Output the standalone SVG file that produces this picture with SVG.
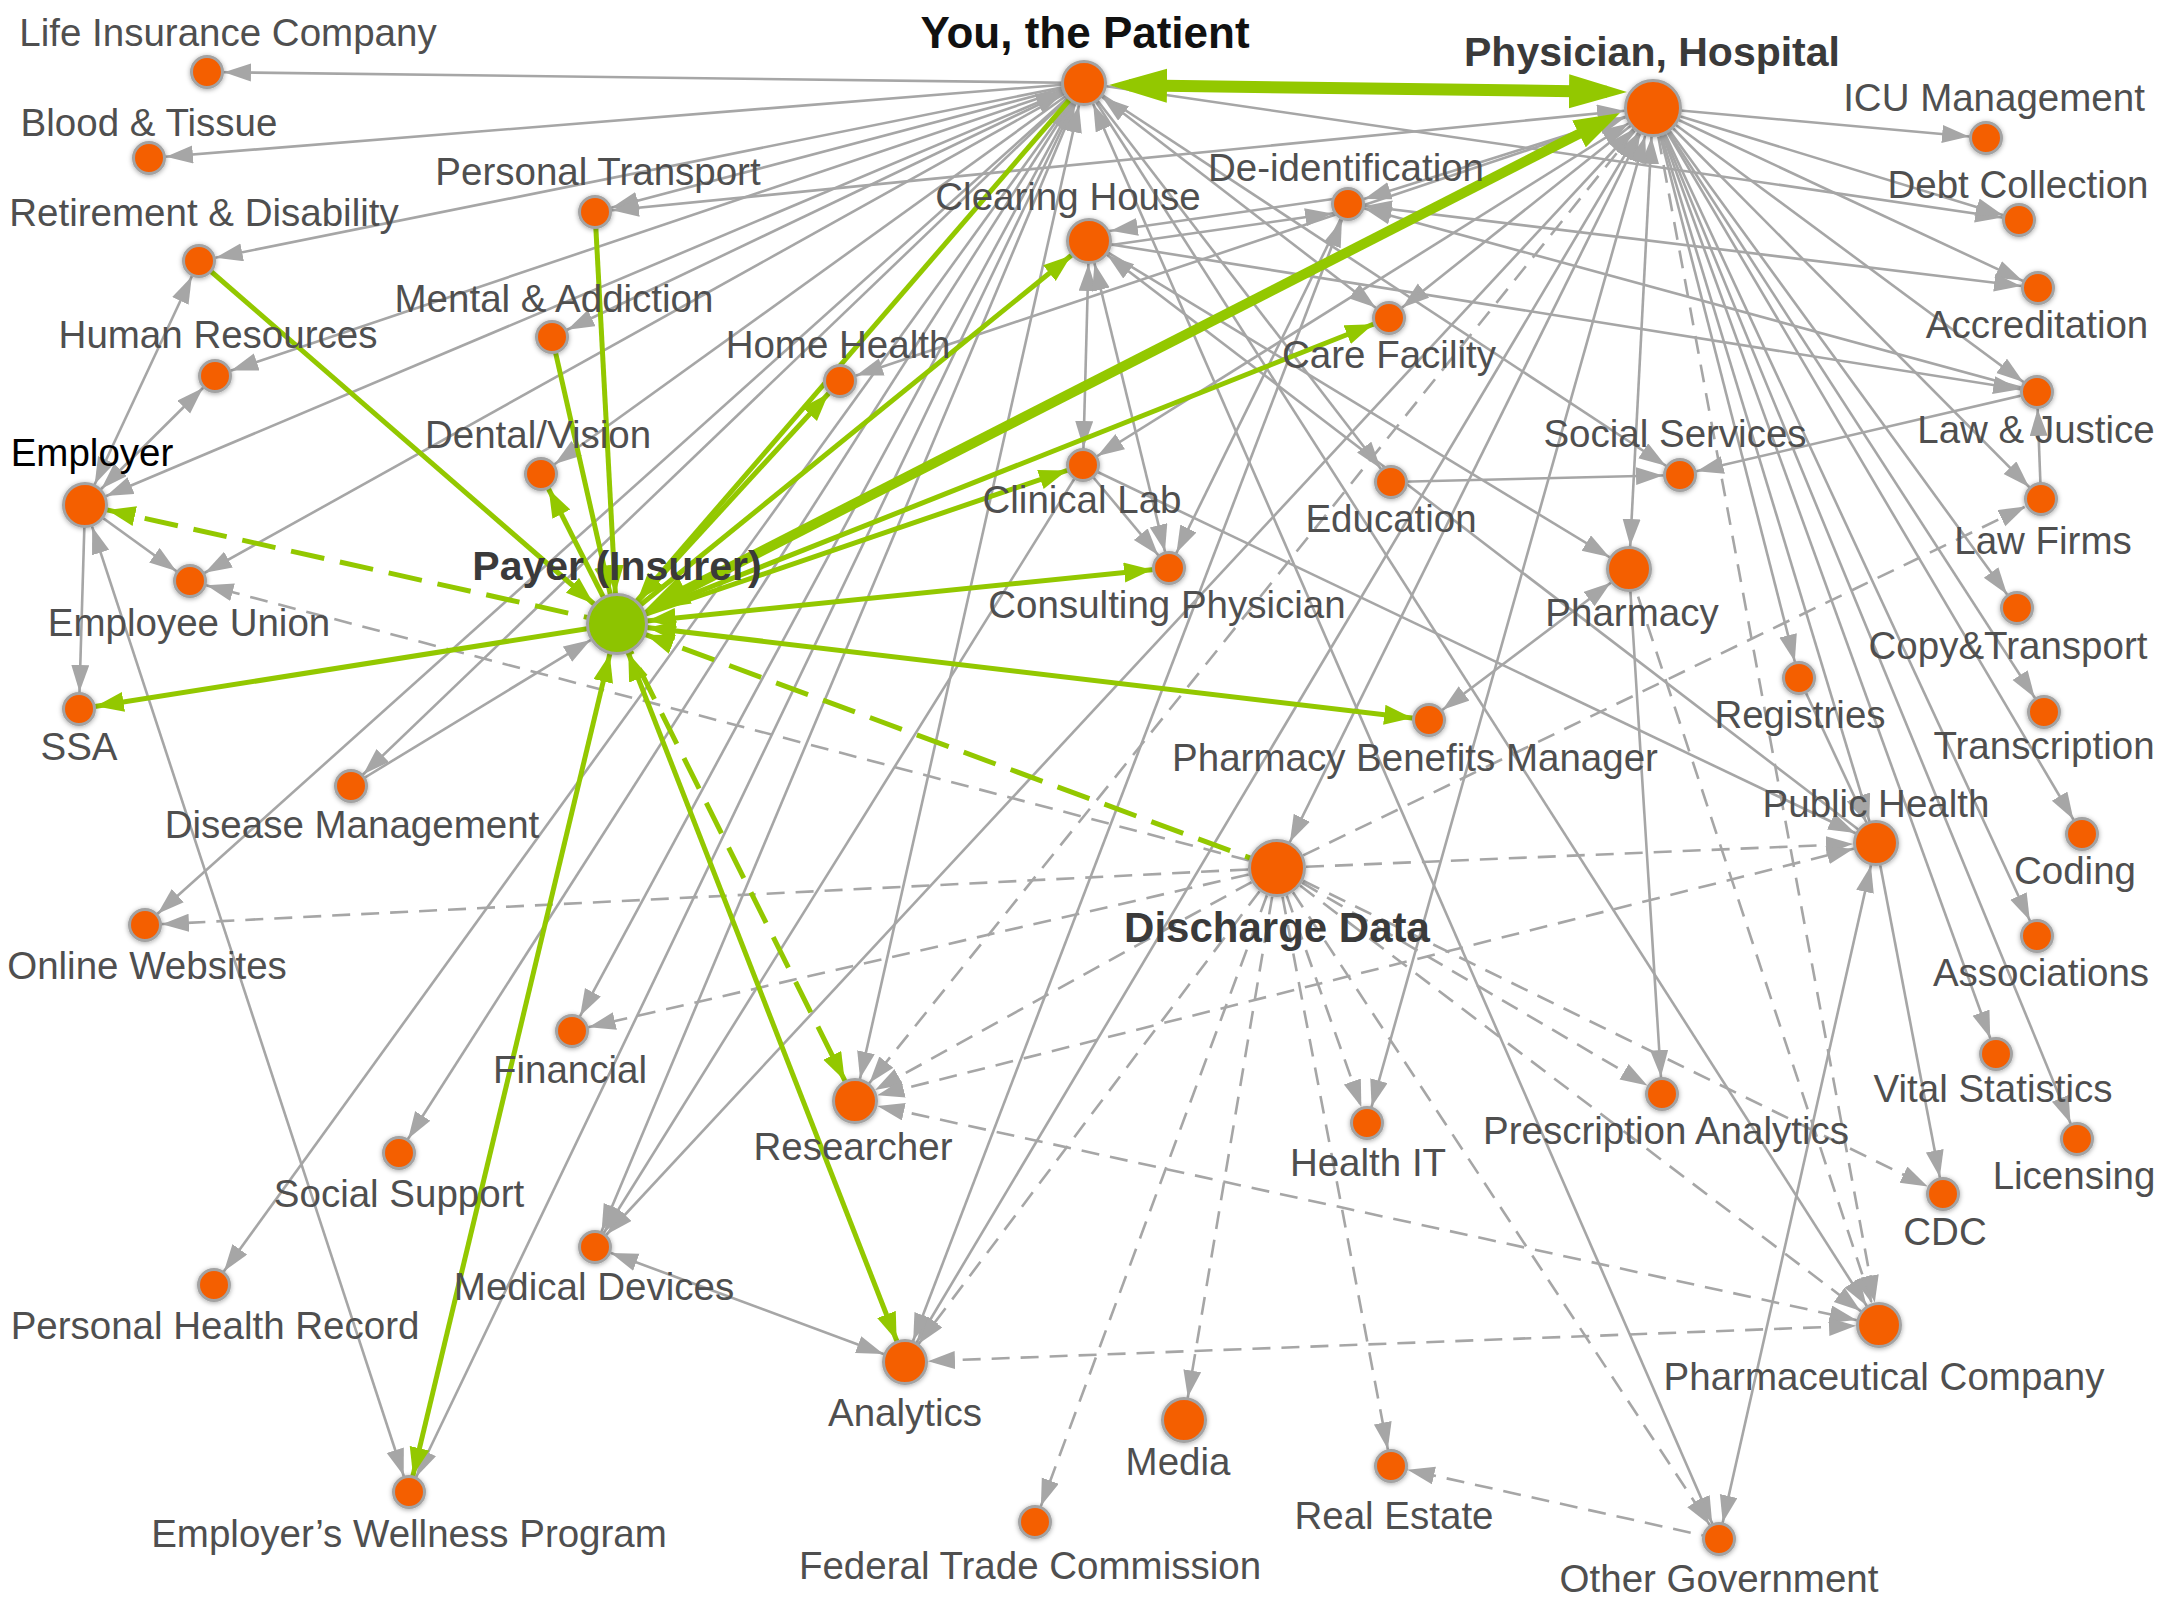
<svg xmlns="http://www.w3.org/2000/svg" width="2160" height="1620" viewBox="0 0 2160 1620">
<defs>
<style>
.e{fill:none;stroke:#a6a6a6;stroke-width:2.6}
.d{stroke-dasharray:18 11}
.g{fill:none;stroke:#93c800;stroke-width:5}
.gd{stroke-dasharray:34 16}
.n{fill:#f45e04;stroke:#a3a3a3;stroke-width:3;filter:url(#sh)}
.ny{fill:#8dc400;stroke:#a3a3a3;stroke-width:3;filter:url(#sh)}
.t{font-family:"Liberation Sans",Arial,Helvetica,sans-serif;font-size:38.5px;fill:#4f4f4f;text-anchor:middle}
.b{font-weight:bold;font-size:42px;fill:#3a3a3a}
</style>
<filter id="sh" x="-50%" y="-50%" width="200%" height="200%"><feDropShadow dx="0" dy="1" stdDeviation="2.5" flood-color="#000" flood-opacity="0.35"/></filter>
<marker id="a17" markerUnits="userSpaceOnUse" markerWidth="40" markerHeight="20" refX="44" refY="9" orient="auto-start-reverse"><path d="M0,0L27,9L0,18z" fill="#a6a6a6"/></marker>
<marker id="a23" markerUnits="userSpaceOnUse" markerWidth="40" markerHeight="20" refX="50" refY="9" orient="auto-start-reverse"><path d="M0,0L27,9L0,18z" fill="#a6a6a6"/></marker>
<marker id="a29" markerUnits="userSpaceOnUse" markerWidth="40" markerHeight="20" refX="56" refY="9" orient="auto-start-reverse"><path d="M0,0L27,9L0,18z" fill="#a6a6a6"/></marker>
<marker id="a31" markerUnits="userSpaceOnUse" markerWidth="40" markerHeight="20" refX="58" refY="9" orient="auto-start-reverse"><path d="M0,0L27,9L0,18z" fill="#a6a6a6"/></marker>
<marker id="g17" markerUnits="userSpaceOnUse" markerWidth="40" markerHeight="22" refX="45" refY="10" orient="auto-start-reverse"><path d="M0,0L28,10L0,20z" fill="#93c800"/></marker>
<marker id="g23" markerUnits="userSpaceOnUse" markerWidth="40" markerHeight="22" refX="51" refY="10" orient="auto-start-reverse"><path d="M0,0L28,10L0,20z" fill="#93c800"/></marker>
<marker id="g31" markerUnits="userSpaceOnUse" markerWidth="40" markerHeight="22" refX="59" refY="10" orient="auto-start-reverse"><path d="M0,0L28,10L0,20z" fill="#93c800"/></marker>
<marker id="GB" markerUnits="userSpaceOnUse" markerWidth="60" markerHeight="36" refX="38" refY="17" orient="auto-start-reverse"><path d="M0,0L58,17L0,34z" fill="#93c800"/></marker>
<marker id="GM" markerUnits="userSpaceOnUse" markerWidth="50" markerHeight="32" refX="30" refY="15" orient="auto-start-reverse"><path d="M0,0L46,15L0,30z" fill="#93c800"/></marker>
</defs>
<rect width="2160" height="1620" fill="#fff"/>
<g id="connectors">
<g id="gray-solid" class="e">
<line x1="1084" y1="83" x2="207" y2="72" marker-end="url(#a17)"/>
<line x1="1084" y1="83" x2="149" y2="158" marker-end="url(#a17)"/>
<line x1="1084" y1="83" x2="199" y2="261" marker-end="url(#a17)"/>
<line x1="1084" y1="83" x2="595" y2="212" marker-end="url(#a17)"/>
<line x1="1084" y1="83" x2="215" y2="376" marker-end="url(#a17)"/>
<line x1="1084" y1="83" x2="552" y2="337" marker-end="url(#a17)" marker-start="url(#a23)"/>
<line x1="1084" y1="83" x2="85" y2="505" marker-end="url(#a23)" marker-start="url(#a23)"/>
<line x1="1084" y1="83" x2="541" y2="474" marker-end="url(#a17)"/>
<line x1="1084" y1="83" x2="190" y2="581" marker-end="url(#a17)"/>
<line x1="1084" y1="83" x2="351" y2="786" marker-end="url(#a17)"/>
<line x1="1084" y1="83" x2="145" y2="925" marker-end="url(#a17)"/>
<line x1="1084" y1="83" x2="572" y2="1031" marker-end="url(#a17)" marker-start="url(#a23)"/>
<line x1="1084" y1="83" x2="399" y2="1153" marker-end="url(#a17)" marker-start="url(#a23)"/>
<line x1="1084" y1="83" x2="214" y2="1285" marker-end="url(#a17)"/>
<line x1="1084" y1="83" x2="595" y2="1247" marker-end="url(#a17)" marker-start="url(#a23)"/>
<line x1="1084" y1="83" x2="409" y2="1492" marker-end="url(#a17)"/>
<line x1="1084" y1="83" x2="855" y2="1101" marker-end="url(#a23)" marker-start="url(#a23)"/>
<line x1="1084" y1="83" x2="1389" y2="318" marker-end="url(#a17)" marker-start="url(#a23)"/>
<line x1="1084" y1="83" x2="1391" y2="482" marker-end="url(#a17)"/>
<line x1="1084" y1="83" x2="2019" y2="220" marker-end="url(#a17)"/>
<line x1="1084" y1="83" x2="1680" y2="475" marker-end="url(#a17)"/>
<line x1="1084" y1="83" x2="1719" y2="1539" marker-end="url(#a17)" marker-start="url(#a23)"/>
<line x1="1084" y1="83" x2="1879" y2="1325" marker-end="url(#a23)"/>
<line x1="1653" y1="108" x2="1986" y2="138" marker-end="url(#a17)"/>
<line x1="1653" y1="108" x2="2019" y2="220" marker-end="url(#a17)"/>
<line x1="1653" y1="108" x2="2038" y2="288" marker-end="url(#a17)"/>
<line x1="1653" y1="108" x2="2037" y2="392" marker-end="url(#a17)"/>
<line x1="1653" y1="108" x2="2041" y2="499" marker-end="url(#a17)"/>
<line x1="1653" y1="108" x2="2017" y2="608" marker-end="url(#a17)"/>
<line x1="1653" y1="108" x2="2044" y2="712" marker-end="url(#a17)"/>
<line x1="1653" y1="108" x2="2082" y2="834" marker-end="url(#a17)"/>
<line x1="1653" y1="108" x2="2037" y2="936" marker-end="url(#a17)"/>
<line x1="1653" y1="108" x2="1996" y2="1054" marker-end="url(#a17)"/>
<line x1="1653" y1="108" x2="2077" y2="1139" marker-end="url(#a17)"/>
<line x1="1653" y1="108" x2="1799" y2="678" marker-end="url(#a17)"/>
<line x1="1653" y1="108" x2="1876" y2="843" marker-end="url(#a23)"/>
<line x1="1653" y1="108" x2="1629" y2="569" marker-end="url(#a23)" marker-start="url(#a29)"/>
<line x1="1653" y1="108" x2="1389" y2="318" marker-end="url(#a17)"/>
<line x1="1653" y1="108" x2="1348" y2="204" marker-end="url(#a17)"/>
<line x1="1653" y1="108" x2="1083" y2="465" marker-end="url(#a17)" marker-start="url(#a29)"/>
<line x1="1653" y1="108" x2="840" y2="381" marker-end="url(#a17)" marker-start="url(#a29)"/>
<line x1="1653" y1="108" x2="595" y2="212" marker-end="url(#a17)" marker-start="url(#a29)"/>
<line x1="1653" y1="108" x2="1277" y2="868" marker-end="url(#a29)" marker-start="url(#a29)"/>
<line x1="1653" y1="108" x2="1367" y2="1123" marker-end="url(#a17)" marker-start="url(#a29)"/>
<line x1="1653" y1="108" x2="905" y2="1362" marker-end="url(#a23)" marker-start="url(#a29)"/>
<line x1="1653" y1="108" x2="595" y2="1247" marker-end="url(#a17)" marker-start="url(#a29)"/>
<line x1="1090" y1="248" x2="1349" y2="211" marker-end="url(#a17)"/>
<line x1="1347" y1="197" x2="1088" y2="234" marker-end="url(#a23)"/>
<line x1="1089" y1="241" x2="1083" y2="465" marker-end="url(#a17)" marker-start="url(#a23)"/>
<line x1="1089" y1="241" x2="1169" y2="568" marker-end="url(#a17)" marker-start="url(#a23)"/>
<line x1="1089" y1="241" x2="1629" y2="569" marker-end="url(#a23)"/>
<line x1="1876" y1="843" x2="1089" y2="241" marker-end="url(#a23)"/>
<line x1="1089" y1="241" x2="2037" y2="392" marker-end="url(#a17)"/>
<line x1="1348" y1="204" x2="2038" y2="288" marker-end="url(#a17)" marker-start="url(#a17)"/>
<line x1="2037" y1="392" x2="1348" y2="204" marker-end="url(#a17)"/>
<line x1="1348" y1="204" x2="905" y2="1362" marker-end="url(#a23)" marker-start="url(#a17)"/>
<line x1="1348" y1="204" x2="1169" y2="568" marker-end="url(#a17)"/>
<line x1="1083" y1="465" x2="1876" y2="843" marker-end="url(#a23)"/>
<line x1="1083" y1="465" x2="1169" y2="568" marker-end="url(#a17)"/>
<line x1="1083" y1="465" x2="595" y2="1247" marker-end="url(#a17)"/>
<line x1="1391" y1="482" x2="1680" y2="475" marker-end="url(#a17)"/>
<line x1="2037" y1="392" x2="1680" y2="475" marker-end="url(#a17)"/>
<line x1="2041" y1="499" x2="2037" y2="392" marker-end="url(#a17)"/>
<line x1="1629" y1="569" x2="1429" y2="720" marker-end="url(#a17)" marker-start="url(#a23)"/>
<line x1="1629" y1="569" x2="1662" y2="1094" marker-end="url(#a17)"/>
<line x1="1876" y1="843" x2="1943" y2="1194" marker-end="url(#a17)"/>
<line x1="1876" y1="843" x2="1719" y2="1539" marker-end="url(#a17)" marker-start="url(#a23)"/>
<line x1="1799" y1="678" x2="1876" y2="843" marker-end="url(#a23)"/>
<line x1="85" y1="505" x2="199" y2="261" marker-end="url(#a17)" marker-start="url(#a23)"/>
<line x1="85" y1="505" x2="215" y2="376" marker-end="url(#a17)" marker-start="url(#a23)"/>
<line x1="85" y1="505" x2="190" y2="581" marker-end="url(#a17)"/>
<line x1="85" y1="505" x2="79" y2="709" marker-end="url(#a17)"/>
<line x1="85" y1="505" x2="409" y2="1492" marker-end="url(#a17)" marker-start="url(#a23)"/>
<line x1="351" y1="786" x2="617" y2="624" marker-end="url(#a31)"/>
<line x1="595" y1="1247" x2="905" y2="1362" marker-end="url(#a23)" marker-start="url(#a17)"/>
</g>
<g id="gray-dashed" class="e d">
<line x1="1277" y1="868" x2="190" y2="581" marker-end="url(#a17)"/>
<line x1="1277" y1="868" x2="145" y2="925" marker-end="url(#a17)"/>
<line x1="1277" y1="868" x2="572" y2="1031" marker-end="url(#a17)"/>
<line x1="1277" y1="868" x2="855" y2="1101" marker-end="url(#a23)"/>
<line x1="1277" y1="868" x2="905" y2="1362" marker-end="url(#a23)"/>
<line x1="1277" y1="868" x2="1035" y2="1522" marker-end="url(#a17)"/>
<line x1="1277" y1="868" x2="1184" y2="1420" marker-end="url(#a23)"/>
<line x1="1277" y1="868" x2="1367" y2="1123" marker-end="url(#a17)"/>
<line x1="1277" y1="868" x2="1391" y2="1466" marker-end="url(#a17)"/>
<line x1="1277" y1="868" x2="1719" y2="1539" marker-end="url(#a17)"/>
<line x1="1277" y1="868" x2="1662" y2="1094" marker-end="url(#a17)"/>
<line x1="1277" y1="868" x2="1943" y2="1194" marker-end="url(#a17)"/>
<line x1="1277" y1="868" x2="1879" y2="1325" marker-end="url(#a23)"/>
<line x1="1277" y1="868" x2="1876" y2="843" marker-end="url(#a23)"/>
<line x1="1277" y1="868" x2="2041" y2="499" marker-end="url(#a17)"/>
<line x1="855" y1="1101" x2="1879" y2="1325" marker-end="url(#a23)" marker-start="url(#a23)"/>
<line x1="855" y1="1101" x2="1876" y2="843" marker-end="url(#a23)" marker-start="url(#a23)"/>
<line x1="1879" y1="1325" x2="905" y2="1362" marker-end="url(#a23)" marker-start="url(#a23)"/>
<line x1="1719" y1="1539" x2="1391" y2="1466" marker-end="url(#a17)"/>
<line x1="1629" y1="569" x2="1879" y2="1325" marker-end="url(#a23)"/>
<line x1="1653" y1="108" x2="855" y2="1101" marker-end="url(#a23)"/>
<line x1="1653" y1="108" x2="1879" y2="1325" marker-end="url(#a23)"/>
</g>
<g id="green" class="g">
<line x1="1084" y1="83" x2="617" y2="624" marker-end="url(#g31)"/>
<line x1="617" y1="624" x2="840" y2="381" marker-end="url(#g17)"/>
<line x1="617" y1="624" x2="1089" y2="241" marker-end="url(#g23)"/>
<line x1="617" y1="624" x2="1389" y2="318" marker-end="url(#g17)"/>
<line x1="617" y1="624" x2="1083" y2="465" marker-end="url(#g17)"/>
<line x1="617" y1="624" x2="1169" y2="568" marker-end="url(#g17)" marker-start="url(#g31)"/>
<line x1="617" y1="624" x2="1429" y2="720" marker-end="url(#g17)" marker-start="url(#g31)"/>
<line x1="199" y1="261" x2="617" y2="624" marker-end="url(#g31)"/>
<line x1="595" y1="212" x2="617" y2="624" marker-end="url(#g31)"/>
<line x1="552" y1="337" x2="617" y2="624" marker-end="url(#g31)"/>
<line x1="617" y1="624" x2="541" y2="474" marker-end="url(#g17)"/>
<line x1="617" y1="624" x2="79" y2="709" marker-end="url(#g17)"/>
<line x1="617" y1="624" x2="409" y2="1492" marker-end="url(#g17)" marker-start="url(#g31)"/>
<line x1="617" y1="624" x2="905" y2="1362" marker-end="url(#g23)" marker-start="url(#g31)"/>
<line class="gd" x1="617" y1="624" x2="85" y2="505" marker-end="url(#g23)"/>
<line class="gd" x1="617" y1="624" x2="855" y2="1101" marker-end="url(#g23)"/>
<line class="gd" x1="1277" y1="868" x2="617" y2="624" marker-end="url(#g31)"/>
<line x1="658.3" y1="603.7" x2="1605.7" y2="120.3" style="stroke-width:10" marker-end="url(#GM)" marker-start="url(#GM)"/>
<line x1="1129" y1="85.3" x2="1607" y2="91.7" style="stroke-width:12" marker-end="url(#GB)" marker-start="url(#GB)"/>
</g>
</g>
<g id="nodes">
<g id="n-patient"><circle class="n" cx="1084" cy="83" r="21.5"/><text class="t b" x="1085" y="48" style="font-size:44px;fill:#111">You, the Patient</text></g>
<g id="n-physician"><circle class="n" cx="1653" cy="108" r="27.5"/><text class="t b" x="1652" y="66" style="font-size:41px">Physician, Hospital</text></g>
<g id="n-payer"><circle class="ny" cx="617" cy="624" r="29.5"/><text class="t b" x="617" y="580" style="font-size:41px">Payer (Insurer)</text></g>
<g id="n-discharge"><circle class="n" cx="1277" cy="868" r="27.5"/><text class="t b" x="1277" y="942">Discharge Data</text></g>
<g id="n-life"><circle class="n" cx="207" cy="72" r="15.5"/><text class="t" x="228" y="46">Life Insurance Company</text></g>
<g id="n-blood"><circle class="n" cx="149" cy="158" r="15.5"/><text class="t" x="149" y="136">Blood &amp; Tissue</text></g>
<g id="n-retire"><circle class="n" cx="199" cy="261" r="15.5"/><text class="t" x="204" y="226">Retirement &amp; Disability</text></g>
<g id="n-transport"><circle class="n" cx="595" cy="212" r="15.5"/><text class="t" x="598" y="185">Personal Transport</text></g>
<g id="n-hr"><circle class="n" cx="215" cy="376" r="15.5"/><text class="t" x="218" y="348">Human Resources</text></g>
<g id="n-mental"><circle class="n" cx="552" cy="337" r="15.5"/><text class="t" x="554" y="312">Mental &amp; Addiction</text></g>
<g id="n-dental"><circle class="n" cx="541" cy="474" r="15.5"/><text class="t" x="538" y="448">Dental/Vision</text></g>
<g id="n-employer"><circle class="n" cx="85" cy="505" r="21.5"/><text class="t" x="92" y="466" style="fill:#000">Employer</text></g>
<g id="n-union"><circle class="n" cx="190" cy="581" r="15.5"/><text class="t" x="189" y="636">Employee Union</text></g>
<g id="n-ssa"><circle class="n" cx="79" cy="709" r="15.5"/><text class="t" x="79" y="760">SSA</text></g>
<g id="n-disease"><circle class="n" cx="351" cy="786" r="15.5"/><text class="t" x="352" y="838">Disease Management</text></g>
<g id="n-online"><circle class="n" cx="145" cy="925" r="15.5"/><text class="t" x="147" y="979">Online Websites</text></g>
<g id="n-financial"><circle class="n" cx="572" cy="1031" r="15.5"/><text class="t" x="570" y="1083">Financial</text></g>
<g id="n-social-support"><circle class="n" cx="399" cy="1153" r="15.5"/><text class="t" x="399" y="1207">Social Support</text></g>
<g id="n-phr"><circle class="n" cx="214" cy="1285" r="15.5"/><text class="t" x="215" y="1339">Personal Health Record</text></g>
<g id="n-devices"><circle class="n" cx="595" cy="1247" r="15.5"/><text class="t" x="594" y="1300">Medical Devices</text></g>
<g id="n-wellness"><circle class="n" cx="409" cy="1492" r="15.5"/><text class="t" x="409" y="1547">Employer’s Wellness Program</text></g>
<g id="n-clearing"><circle class="n" cx="1089" cy="241" r="21.5"/><text class="t" x="1068" y="210">Clearing House</text></g>
<g id="n-deid"><circle class="n" cx="1348" cy="204" r="15.5"/><text class="t" x="1346" y="181">De-identification</text></g>
<g id="n-home"><circle class="n" cx="840" cy="381" r="15.5"/><text class="t" x="838" y="358">Home Health</text></g>
<g id="n-care"><circle class="n" cx="1389" cy="318" r="15.5"/><text class="t" x="1389" y="368">Care Facility</text></g>
<g id="n-lab"><circle class="n" cx="1083" cy="465" r="15.5"/><text class="t" x="1082" y="513">Clinical Lab</text></g>
<g id="n-education"><circle class="n" cx="1391" cy="482" r="15.5"/><text class="t" x="1391" y="532">Education</text></g>
<g id="n-consulting"><circle class="n" cx="1169" cy="568" r="15.5"/><text class="t" x="1167" y="618">Consulting Physician</text></g>
<g id="n-icu"><circle class="n" cx="1986" cy="138" r="15.5"/><text class="t" x="1994" y="111">ICU Management</text></g>
<g id="n-debt"><circle class="n" cx="2019" cy="220" r="15.5"/><text class="t" x="2018" y="198">Debt Collection</text></g>
<g id="n-accred"><circle class="n" cx="2038" cy="288" r="15.5"/><text class="t" x="2037" y="338">Accreditation</text></g>
<g id="n-law"><circle class="n" cx="2037" cy="392" r="15.5"/><text class="t" x="2036" y="443">Law &amp; Justice</text></g>
<g id="n-lawfirms"><circle class="n" cx="2041" cy="499" r="15.5"/><text class="t" x="2043" y="554">Law Firms</text></g>
<g id="n-socserv"><circle class="n" cx="1680" cy="475" r="15.5"/><text class="t" x="1675" y="447">Social Services</text></g>
<g id="n-pharmacy"><circle class="n" cx="1629" cy="569" r="21.5"/><text class="t" x="1632" y="626">Pharmacy</text></g>
<g id="n-copy"><circle class="n" cx="2017" cy="608" r="15.5"/><text class="t" x="2008" y="659">Copy&amp;Transport</text></g>
<g id="n-registries"><circle class="n" cx="1799" cy="678" r="15.5"/><text class="t" x="1800" y="728">Registries</text></g>
<g id="n-transcription"><circle class="n" cx="2044" cy="712" r="15.5"/><text class="t" x="2044" y="759">Transcription</text></g>
<g id="n-pbm"><circle class="n" cx="1429" cy="720" r="15.5"/><text class="t" x="1415" y="771">Pharmacy Benefits Manager</text></g>
<g id="n-public"><circle class="n" cx="1876" cy="843" r="21.5"/><text class="t" x="1876" y="817">Public Health</text></g>
<g id="n-coding"><circle class="n" cx="2082" cy="834" r="15.5"/><text class="t" x="2075" y="884">Coding</text></g>
<g id="n-assoc"><circle class="n" cx="2037" cy="936" r="15.5"/><text class="t" x="2041" y="986">Associations</text></g>
<g id="n-vital"><circle class="n" cx="1996" cy="1054" r="15.5"/><text class="t" x="1993" y="1102">Vital Statistics</text></g>
<g id="n-rxanalytics"><circle class="n" cx="1662" cy="1094" r="15.5"/><text class="t" x="1666" y="1144">Prescription Analytics</text></g>
<g id="n-licensing"><circle class="n" cx="2077" cy="1139" r="15.5"/><text class="t" x="2074" y="1189">Licensing</text></g>
<g id="n-cdc"><circle class="n" cx="1943" cy="1194" r="15.5"/><text class="t" x="1945" y="1245">CDC</text></g>
<g id="n-pharmaco"><circle class="n" cx="1879" cy="1325" r="21.5"/><text class="t" x="1884" y="1390">Pharmaceutical Company</text></g>
<g id="n-othergov"><circle class="n" cx="1719" cy="1539" r="15.5"/><text class="t" x="1719" y="1592">Other Government</text></g>
<g id="n-researcher"><circle class="n" cx="855" cy="1101" r="21.5"/><text class="t" x="853" y="1160">Researcher</text></g>
<g id="n-healthit"><circle class="n" cx="1367" cy="1123" r="15.5"/><text class="t" x="1368" y="1176">Health IT</text></g>
<g id="n-analytics"><circle class="n" cx="905" cy="1362" r="21.5"/><text class="t" x="905" y="1426">Analytics</text></g>
<g id="n-media"><circle class="n" cx="1184" cy="1420" r="21.5"/><text class="t" x="1178" y="1475">Media</text></g>
<g id="n-realestate"><circle class="n" cx="1391" cy="1466" r="15.5"/><text class="t" x="1394" y="1529">Real Estate</text></g>
<g id="n-ftc"><circle class="n" cx="1035" cy="1522" r="15.5"/><text class="t" x="1030" y="1579">Federal Trade Commission</text></g>
</g>
</svg>
